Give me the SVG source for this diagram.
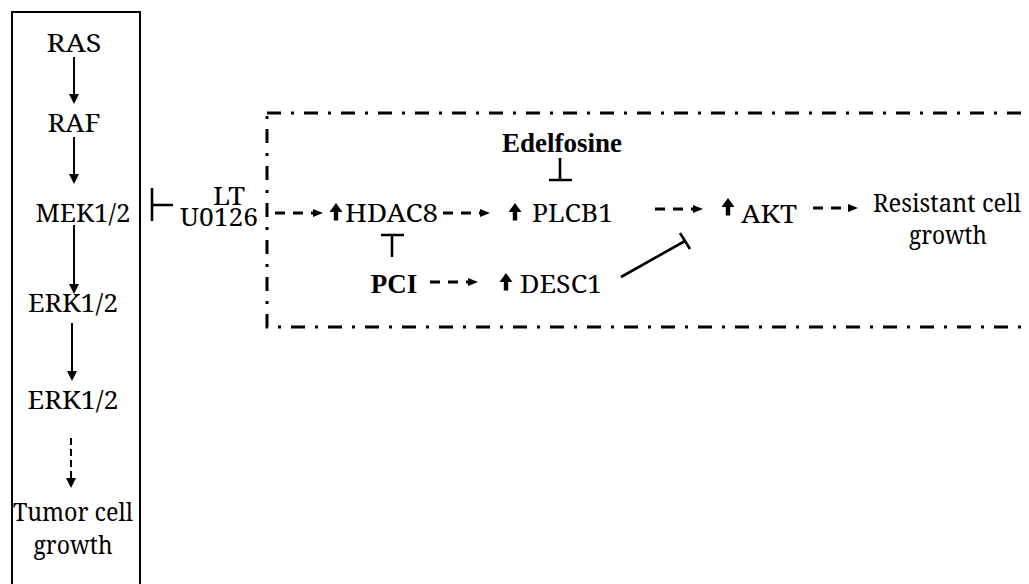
<svg xmlns="http://www.w3.org/2000/svg" xmlns:xlink="http://www.w3.org/1999/xlink" width="1029" height="584" viewBox="0 0 1029 584">
<style>
.t{font-family:'Noto Serif','DejaVu Serif',serif;font-size:26px;fill:#000}
.b{font-family:'Liberation Serif','Times New Roman',serif;font-weight:bold;font-size:27px}
.c{text-anchor:middle}
.solid{stroke:#000;stroke-width:2;fill:none}
.dash{stroke:#000;stroke-width:3;fill:none;stroke-dasharray:10 8}
.inh{stroke:#000;stroke-width:2.6;fill:none}
</style>
<defs>
<marker id="ah" markerUnits="userSpaceOnUse" markerWidth="10" markerHeight="10" refX="0" refY="5" orient="auto"><path d="M0,0 L10,5 L0,10 z" fill="#000"/></marker>
<marker id="ahs" markerUnits="userSpaceOnUse" markerWidth="10" markerHeight="8" refX="0" refY="4" orient="auto"><path d="M0,0 L10,4 L0,8 z" fill="#000"/></marker>
<path id="up" d="M0,0 L6.5,9 L2.2,9 L2.2,17.5 L-2.2,17.5 L-2.2,9 L-6.5,9 z" fill="#000"/>
</defs>
<rect width="1029" height="584" fill="#fff"/>
<rect x="12" y="12" width="128" height="590" fill="none" stroke="#000" stroke-width="2"/>
<rect x="267" y="113" width="800" height="214" fill="none" stroke="#000" stroke-width="3" stroke-dasharray="14 10 3 10"/>
<g class="t">
<g id="ras"><text class="c" x="74" y="52" textLength="55" lengthAdjust="spacingAndGlyphs">RAS</text></g>
<g id="raf"><text class="c" x="74" y="132" textLength="53" lengthAdjust="spacingAndGlyphs">RAF</text></g>
<g id="mek"><text class="c" x="83" y="222" textLength="95" lengthAdjust="spacingAndGlyphs">MEK1/2</text></g>
<g id="erk1"><text class="c" x="73" y="312" textLength="90" lengthAdjust="spacingAndGlyphs">ERK1/2</text></g>
<g id="erk2"><text class="c" x="73" y="409" textLength="91" lengthAdjust="spacingAndGlyphs">ERK1/2</text></g>
<g id="tumor"><text class="c" x="73" y="521" textLength="120" lengthAdjust="spacingAndGlyphs">Tumor cell</text><text class="c" x="73" y="554" textLength="79" lengthAdjust="spacingAndGlyphs">growth</text></g>
<g id="lt"><text class="c" x="229" y="205" textLength="32" lengthAdjust="spacingAndGlyphs">LT</text><text class="c" x="219" y="226" textLength="78" lengthAdjust="spacingAndGlyphs">U0126</text></g>
<g id="hdac8"><use xlink:href="#up" x="336" y="203"/><text x="345" y="222" textLength="93" lengthAdjust="spacingAndGlyphs">HDAC8</text></g>
<g id="plcb1"><use xlink:href="#up" x="515" y="203"/><text x="532" y="222" textLength="81" lengthAdjust="spacingAndGlyphs">PLCB1</text></g>
<g id="edelfosine"><text class="c b" x="562" y="152">Edelfosine</text></g>
<g id="pci"><text class="c b" x="394" y="293">PCI</text></g>
<g id="desc1"><use xlink:href="#up" x="506" y="273"/><text x="520" y="293" textLength="82" lengthAdjust="spacingAndGlyphs">DESC1</text></g>
<g id="akt"><use xlink:href="#up" x="728" y="198"/><text x="741" y="223" textLength="56" lengthAdjust="spacingAndGlyphs">AKT</text></g>
<g id="resistant"><text class="c" x="947" y="212" textLength="148" lengthAdjust="spacingAndGlyphs">Resistant cell</text><text class="c" x="948" y="244" textLength="78" lengthAdjust="spacingAndGlyphs">growth</text></g>
</g>
<g id="connectors">
<line class="solid" x1="74" y1="57" x2="74" y2="94" marker-end="url(#ah)"/>
<line class="solid" x1="74" y1="137" x2="74" y2="174" marker-end="url(#ah)"/>
<line class="solid" x1="74" y1="225" x2="74" y2="284" marker-end="url(#ah)"/>
<line class="solid" x1="72" y1="323" x2="72" y2="371" marker-end="url(#ah)"/>
<line class="solid" x1="71" y1="438" x2="71" y2="478" stroke-dasharray="7 4" marker-end="url(#ah)"/>
<path class="inh" d="M173,205 H152 M152,188 V221"/>
<line class="dash" x1="275" y1="213" x2="313" y2="213" marker-end="url(#ahs)"/>
<line class="dash" x1="443" y1="213" x2="480" y2="213" marker-end="url(#ahs)"/>
<line class="dash" x1="430" y1="282" x2="468" y2="282" marker-end="url(#ahs)"/>
<line class="dash" x1="655" y1="209" x2="693" y2="209" marker-end="url(#ahs)"/>
<line class="dash" x1="813" y1="208" x2="848" y2="208" marker-end="url(#ahs)"/>
<path class="inh" d="M392,257 V235 M381,235 H404"/>
<path class="inh" d="M560,158 V180 M549,180 H572"/>
<path class="inh" d="M621,277 L685,241 M680,233 L690,249"/>
</g>
</svg>
